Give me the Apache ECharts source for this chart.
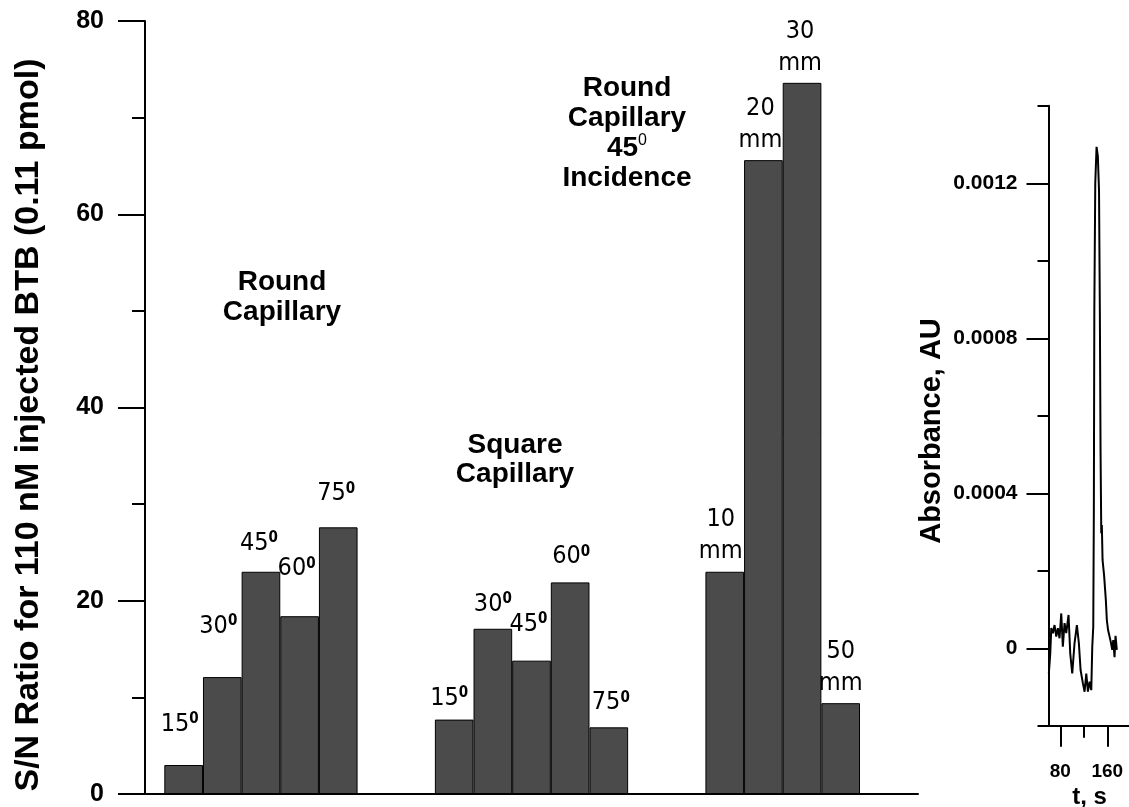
<!DOCTYPE html>
<html>
<head>
<meta charset="utf-8">
<script src="https://cdn.jsdelivr.net/npm/echarts@6/dist/echarts.min.js"></script>
<style>
  html, body { margin: 0; padding: 0; background: #fff; }
  #chart { width: 1129px; height: 807px; }
</style>
</head>
<body>
<div id="chart"></div>
<script>
// ---- S/N ratio bars ----
// Round capillary, angle of incidence (degrees)
const roundAngles = ['15', '30', '45', '60', '75'];
const roundSN = [3.0, 12.1, 23.0, 18.4, 27.6];
// Square capillary, angle of incidence (degrees)
const squareAngles = ['15', '30', '45', '60', '75'];
const squareSN = [7.7, 17.1, 13.8, 21.9, 6.9];
// Round capillary at 45 degree incidence, distance (mm)
const distances = ['10', '20', '30', '50'];
const distanceSN = [23.0, 65.6, 73.6, 9.4];

// slot of each bar along the (hidden) horizontal scale
const roundSlots = [1, 2, 3, 4, 5];
const squareSlots = [8, 9, 10, 11, 12];
const distanceSlots = [15, 16, 17, 18];

// label placement: gap above bar top and sideways nudge, px
const roundLabelGap = [28, 38, 16, 35, 21];
const roundLabelDx = [-4, -4, -2, -3, -2];
const squareLabelGap = [9, 12, 24, 13, 12];
const squareLabelDx = [-5, 0, -3, 1, 2];
const distanceLabelGap = [4, 4, 3, 4];
const distanceLabelDx = [-4, -3, -2, 0];

// y-axis ticks of the main plot
const snTicks = [0, 20, 40, 60, 80];

// ---- inset electropherogram ----
const traceT = [60.6, 63.0, 64.7, 67.4, 70.3, 73.2, 75.9, 78.8, 81.7, 84.4, 87.3, 90.2, 94.1, 97.0,
  100.4, 104.3, 108.3, 111.7, 114.6, 118.5, 121.4, 124.3, 127.1, 129.9, 132.8, 134.5, 136.2,
  137.2, 138.0, 139.6, 141.8, 144.0, 146.0, 147.4, 148.6, 149.8, 150.8, 152.0, 154.6, 157.6,
  159.3, 161.4, 163.9, 166.1, 168.5, 170.2, 172.4, 174.1, 176.3];
const traceAU = [-0.000065, -0.000013, 0.000052, 0.000039, 0.000060, 0.000030, 0.000052, 0.000026,
  0.000090, 0.000004, 0.000065, 0.000039, 0.000086, -0.000013, -0.000065, 0.000013, 0.000060,
  0.000013, -0.000056, -0.000090, -0.000112, -0.000065, -0.000112, -0.000086, -0.000108,
  0.000004, 0.000056, 0.000357, 0.000873, 0.00120, 0.001294, 0.00127, 0.00118, 0.000873,
  0.000510, 0.000297, 0.000318, 0.000228, 0.000189, 0.000125, 0.000073, 0.000047, 0.000052,
  0.000016, -0.000004, 0.000021, -0.000023, 0.000032, -0.000004];
const auMajor = [0, 0.0004, 0.0008, 0.0012];
const auMinor = [-0.0002, 0.0002, 0.0006, 0.0010, 0.0014];
const tMajor = [80, 160];
const tMinor = [120];

const SANS = 'Liberation Sans, Arial, sans-serif';
const NARROW = 'DejaVu Sans Condensed, Liberation Sans Narrow, sans-serif';
const BAR_FILL = '#4b4b4b';

const angleRich = {
  n: { fontFamily: NARROW, fontSize: 25, lineHeight: 25, color: '#000' },
  d: { fontFamily: NARROW, fontSize: 15, fontWeight: 'bold', lineHeight: 15, verticalAlign: 'top', color: '#000' }
};
const mmRich = {
  n: { fontFamily: NARROW, fontSize: 25, lineHeight: 32, color: '#000' }
};

function barItems(slots, values, texts, gaps, dxs, kind) {
  return values.map((v, i) => ({
    value: [slots[i], v],
    label: {
      distance: gaps[i],
      offset: [dxs[i], 0],
      formatter: kind === 'angle' ? '{n|' + texts[i] + '}{d|0}' : '{n|' + texts[i] + '}\n{n|mm}'
    }
  }));
}

function barSeries(data, rich) {
  return {
    type: 'bar',
    xAxisIndex: 0,
    yAxisIndex: 0,
    barWidth: 38.65,
    barGap: '-100%',
    data: data,
    itemStyle: { color: BAR_FILL, borderColor: '#000', borderWidth: 1 },
    label: { show: true, position: 'top', rich: rich },
    emphasis: { disabled: true },
    animation: false
  };
}

const axisBlack = { lineStyle: { color: '#000', width: 2 } };

const option = {
  animation: false,
  backgroundColor: '#fff',
  grid: [
    { left: 145, top: 21, width: 773, height: 773, outerBoundsMode: 'none', containLabel: false },
    { left: 1048.5, top: 105.8, width: 82.25, height: 620, outerBoundsMode: 'none', containLabel: false }
  ],
  xAxis: [
    {
      gridIndex: 0, type: 'value', position: 'bottom', min: 0, max: 20,
      axisLine: Object.assign({ show: true, onZero: false }, axisBlack),
      axisTick: { show: false }, axisLabel: { show: false }, splitLine: { show: false }
    },
    {
      gridIndex: 1, type: 'value', position: 'bottom', min: 60, max: 200,
      axisLine: Object.assign({ show: true, onZero: false }, axisBlack),
      axisTick: { show: true, customValues: tMajor, length: 21, lineStyle: { color: '#000', width: 2 } },
      axisLabel: { show: true, customValues: tMajor, margin: 36, color: '#000',
        fontFamily: SANS, fontWeight: 'bold', fontSize: 19 },
      splitLine: { show: false },
      name: 't, s', nameLocation: 'middle', nameGap: 60,
      nameTextStyle: { color: '#000', fontFamily: SANS, fontWeight: 'bold', fontSize: 24 }
    },
    {
      gridIndex: 1, type: 'value', position: 'bottom', min: 60, max: 200,
      axisLine: { show: false, onZero: false },
      axisTick: { show: true, customValues: tMinor, length: 12, lineStyle: { color: '#000', width: 2 } },
      axisLabel: { show: false }, splitLine: { show: false }
    }
  ],
  yAxis: [
    {
      gridIndex: 0, type: 'value', position: 'left', min: 0, max: 80, interval: 20,
      axisLine: Object.assign({ show: true, onZero: false }, axisBlack),
      axisTick: { show: true, length: 27, lineStyle: { color: '#000', width: 2 } },
      minorTick: { show: true, splitNumber: 2, length: 13, lineStyle: { color: '#000', width: 2 } },
      axisLabel: { show: true, customValues: snTicks, margin: 41, color: '#000',
        fontFamily: SANS, fontWeight: 'bold', fontSize: 25 },
      splitLine: { show: false }, minorSplitLine: { show: false }
    },
    {
      gridIndex: 1, type: 'value', position: 'left', min: -0.0002, max: 0.0014,
      axisLine: Object.assign({ show: true, onZero: false }, axisBlack),
      axisTick: { show: true, customValues: auMajor, length: 22, lineStyle: { color: '#000', width: 2 } },
      axisLabel: { show: true, customValues: auMajor, margin: 31, color: '#000',
        fontFamily: SANS, fontWeight: 'bold', fontSize: 21,
        formatter: v => (v === 0 ? '0' : v.toFixed(4)) },
      splitLine: { show: false }
    },
    {
      gridIndex: 1, type: 'value', position: 'left', min: -0.0002, max: 0.0014,
      axisLine: { show: false, onZero: false },
      axisTick: { show: true, customValues: auMinor, length: 11, lineStyle: { color: '#000', width: 2 } },
      axisLabel: { show: false }, splitLine: { show: false }
    }
  ],
  series: [
    barSeries(barItems(roundSlots, roundSN, roundAngles, roundLabelGap, roundLabelDx, 'angle'), angleRich),
    barSeries(barItems(squareSlots, squareSN, squareAngles, squareLabelGap, squareLabelDx, 'angle'), angleRich),
    barSeries(barItems(distanceSlots, distanceSN, distances, distanceLabelGap, distanceLabelDx, 'mm'), mmRich),
    {
      type: 'line',
      xAxisIndex: 1,
      yAxisIndex: 1,
      data: traceT.map((t, i) => [t, traceAU[i]]),
      showSymbol: false,
      symbol: 'none',
      lineStyle: { color: '#000', width: 2 },
      emphasis: { disabled: true },
      animation: false
    }
  ],
  graphic: [
    {
      type: 'text', x: 29, y: 425, rotation: Math.PI / 2,
      style: { text: 'S/N Ratio for 110 nM injected BTB (0.11 pmol)', x: 0, y: 0,
        align: 'center', verticalAlign: 'middle', fill: '#000',
        font: 'bold 34px Liberation Sans, Arial, sans-serif' }
    },
    {
      type: 'text', x: 932, y: 431, rotation: Math.PI / 2,
      style: { text: 'Absorbance, AU', x: 0, y: 0,
        align: 'center', verticalAlign: 'middle', fill: '#000',
        font: 'bold 29px Liberation Sans, Arial, sans-serif' }
    },
    {
      type: 'text', x: 282, y: 297,
      style: { text: 'Round\nCapillary', x: 0, y: 0, align: 'center', verticalAlign: 'middle',
        fill: '#000', font: 'bold 28px Liberation Sans, Arial, sans-serif', lineHeight: 30 }
    },
    {
      type: 'text', x: 515, y: 460,
      style: { text: 'Square\nCapillary', x: 0, y: 0, align: 'center', verticalAlign: 'middle',
        fill: '#000', font: 'bold 28px Liberation Sans, Arial, sans-serif', lineHeight: 29 }
    },
    {
      type: 'text', x: 627, y: 133,
      style: {
        text: '{b|Round}\n{b|Capillary}\n{b|45}{s|0}\n{b|Incidence}',
        x: 0, y: 0, align: 'center', verticalAlign: 'middle', fill: '#000',
        rich: {
          b: { fontFamily: SANS, fontWeight: 'bold', fontSize: 28, lineHeight: 30, fill: '#000' },
          s: { fontFamily: SANS, fontSize: 16, lineHeight: 16, verticalAlign: 'top', fill: '#000' }
        }
      }
    }
  ]
};

const chart = echarts.init(document.getElementById('chart'), null, { renderer: 'canvas' });
chart.setOption(option);
</script>
</body>
</html>
